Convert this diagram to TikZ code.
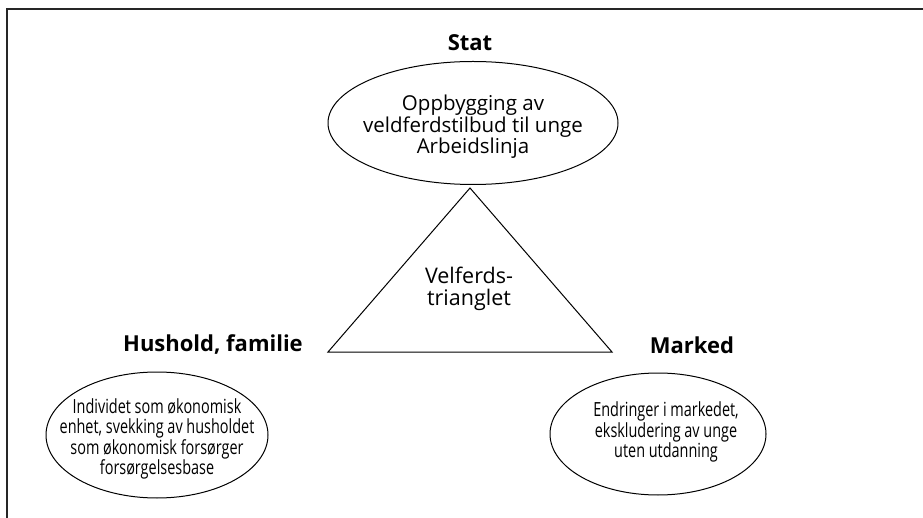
\documentclass[tikz,border=0pt]{standalone}
\usepackage{fontspec}
\setmainfont{Open Sans}
\newfontfamily\condfont[FakeStretch=0.74]{Open Sans}
\usetikzlibrary{shapes.geometric}
\begin{document}
\begin{tikzpicture}[x=1pt,y=-1pt,
  oval/.style={draw, ellipse, line width=1pt, inner sep=0pt},
  ovaltext/.style={align=center, inner sep=0pt},
  head/.style={font=\fontsize{22}{24}\selectfont\bfseries, inner sep=0pt},
  frame/.style={line width=2pt, black!85}]
\useasboundingbox (0,0) rectangle (923,518);
\coordinate (fl) at (7,520);
\coordinate (ftl) at (7,9);
\coordinate (ftr) at (925,9);
\draw[frame] (fl) -- (ftl) -- (ftr);
% Stat
\node[head] (stat) at (470,43) {Stat};
\node[oval, minimum width=290pt, minimum height=123pt] (statov) at (473,123) {};
\node[ovaltext, font=\fontsize{20.5}{20}\selectfont] (statt) at (473,127)
  {Oppbygging av\\veldferdstilbud til unge\\Arbeidslinja};
% triangle
\coordinate (tA) at (470,188);
\coordinate (tL) at (328,352);
\coordinate (tR) at (612,352);
\draw[line width=1pt, line join=miter] (tA) -- (tL) -- (tR) -- cycle;
\node[ovaltext, font=\fontsize{21.5}{22}\selectfont] (tri) at (469,289) {Velferds-\\trianglet};
% labels
\node[head] (hus) at (213,345) {Hushold, familie};
\node[head] (mark) at (692,345) {Marked};
% lower ellipses
\node[oval, minimum width=222pt, minimum height=126pt] (husov) at (157,435) {};
\node[ovaltext, font=\condfont\fontsize{19.5}{20.5}\selectfont] (husovt) at (157,439)
  {Individet som økonomisk\\enhet, svekking av husholdet\\som økonomisk forsørger\\forsørgelsesbase};
\node[oval, minimum width=216pt, minimum height=122pt] (markov) at (658,434) {};
\node[ovaltext, font=\condfont\fontsize{19.5}{20.5}\selectfont] (markovt) at (666,432)
  {Endringer i markedet,\\ekskludering av unge\\uten utdanning};
\end{tikzpicture}
\end{document}
